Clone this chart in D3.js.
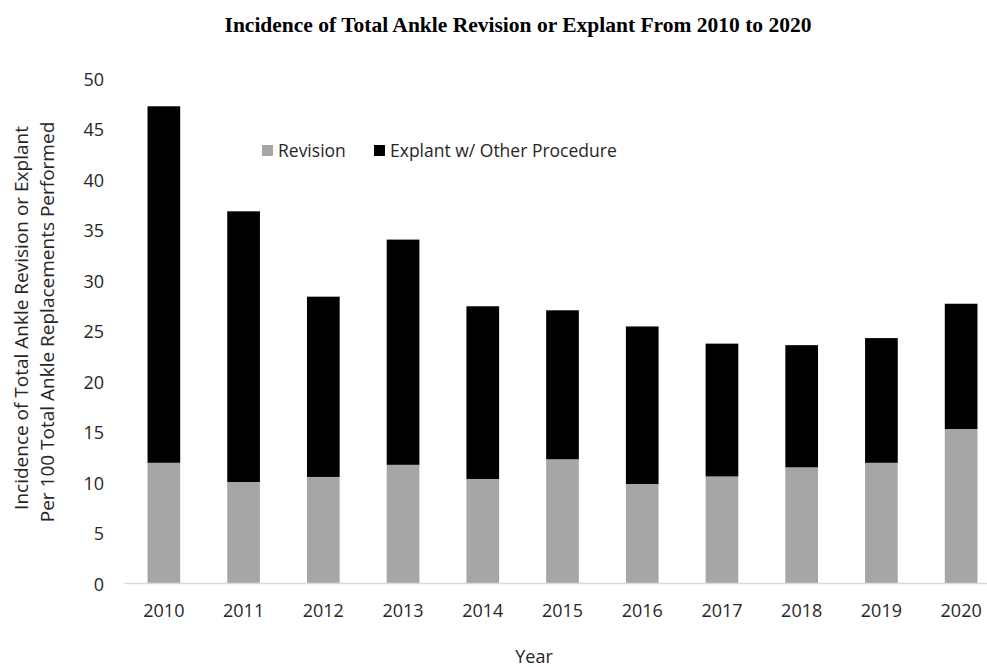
<!DOCTYPE html>
<html>
<head>
<meta charset="utf-8">
<script src="https://cdn.jsdelivr.net/npm/d3@7"></script>
<style>
  body { margin: 0; background: #fff; }
  text { font-family: "Open Sans", sans-serif; fill: #262626; }
</style>
</head>
<body>
<script>
'use strict';

// chart data
const years = ["2010", "2011", "2012", "2013", "2014", "2015", "2016", "2017", "2018", "2019", "2020"];
const revision = [11.9, 10.0, 10.5, 11.7, 10.3, 12.25, 9.8, 10.55, 11.45, 11.9, 15.25];
const explant = [35.3, 26.8, 17.85, 22.3, 17.1, 14.75, 15.6, 13.15, 12.1, 12.35, 12.4];
const seriesNames = ["Revision", "Explant w/ Other Procedure"];
const seriesColors = ["#a6a6a6", "#000000"];
const yTicks = [0, 5, 10, 15, 20, 25, 30, 35, 40, 45, 50];

(function() {
  const width = 987, height = 667;
  const svg = d3.select('body')
    .append('svg')
    .attr('width', width)
    .attr('height', height);

  // table for the stack layout
  const rows = years.map((y, i) => ({ year: y, revision: revision[i], explant: explant[i] }));
  const stack = d3.stack().keys(["revision", "explant"])(rows);

  const x = d3.scaleBand()
    .domain(years)
    .range([124, 1001])
    .paddingInner(0.59)
    .paddingOuter(0.295);

  const y = d3.scaleLinear()
    .domain([0, 50])
    .range([583, 78]);

  // bars
  svg.selectAll('.series')
    .data(stack)
    .enter()
    .append('g')
      .attr('class', 'series')
      .attr('fill', (d, i) => seriesColors[i])
    .selectAll('rect')
    .data(d => d)
    .enter()
    .append('rect')
      .attr('x', d => x(d.data.year))
      .attr('width', x.bandwidth())
      .attr('y', d => y(d[1]))
      .attr('height', d => y(d[0]) - y(d[1]));

  // x axis
  const xAxis = svg.append('g')
    .attr('transform', 'translate(0,583)')
    .call(d3.axisBottom(x).tickSize(0).tickSizeOuter(0));
  xAxis.select('.domain').attr('stroke', '#d9d9d9').attr('stroke-width', 1.5);
  xAxis.selectAll('text')
    .attr('dy', 0)
    .attr('y', 34)
    .style('font-size', '18px')
    .attr('fill', '#262626');

  // y axis, labels only
  const yAxis = svg.append('g')
    .attr('transform', 'translate(124,0)')
    .call(d3.axisLeft(y).tickValues(yTicks).tickSize(0));
  yAxis.select('.domain').remove();
  yAxis.selectAll('text')
    .attr('x', -20)
    .attr('dy', '0.4em')
    .style('font-size', '18px')
    .attr('fill', '#262626');

  // title
  svg.append('text')
    .attr('x', 518)
    .attr('y', 32)
    .attr('text-anchor', 'middle')
    .style('font-family', '"Liberation Serif", "Times New Roman", serif')
    .style('font-weight', 'bold')
    .style('font-size', '21.5px')
    .style('fill', '#000')
    .text('Incidence of Total Ankle Revision or Explant From 2010 to 2020');

  // axis titles
  svg.append('text')
    .attr('transform', 'translate(28, 318)rotate(-90)')
    .attr('text-anchor', 'middle')
    .style('font-size', '19px')
    .text('Incidence of Total Ankle Revision or Explant');
  svg.append('text')
    .attr('transform', 'translate(54, 322)rotate(-90)')
    .attr('text-anchor', 'middle')
    .style('font-size', '19px')
    .text('Per 100 Total Ankle Replacements Performed');

  svg.append('text')
    .attr('x', 534)
    .attr('y', 663)
    .attr('text-anchor', 'middle')
    .style('font-size', '18px')
    .text('Year');

  // legend
  const legendX = [262, 374];
  seriesNames.forEach((name, i) => {
    svg.append('rect')
      .attr('x', legendX[i])
      .attr('y', 145)
      .attr('width', 11)
      .attr('height', 11)
      .attr('fill', seriesColors[i]);
    svg.append('text')
      .attr('x', legendX[i] + 16)
      .attr('y', 157)
      .style('font-size', '17.5px')
      .text(name);
  });
})();
</script>
</body>
</html>
